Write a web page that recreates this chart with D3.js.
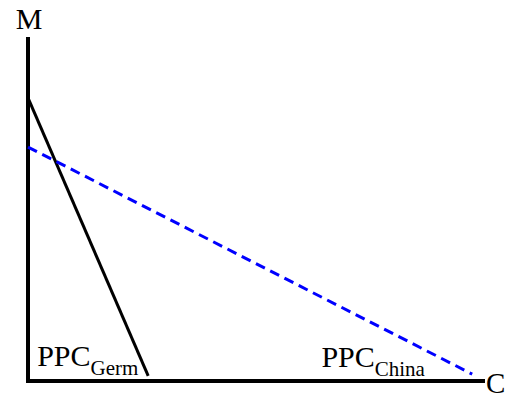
<!DOCTYPE html>
<html>
<head>
<meta charset="utf-8">
<script src="https://cdn.jsdelivr.net/npm/d3@7"></script>
<style>
  body { margin: 0; background: #fff; }
  text { font-family: "Liberation Serif", "Times New Roman", serif; fill: #000; }
</style>
</head>
<body>
<div id="chart"></div>
<script>
// PPC diagram: M (vertical) against C (horizontal), arbitrary units 0..100

let width = 508, height = 399;

let axisPoints = [[0, 100], [0, 0], [100, 0]];
let germanyPPC = [[0, 82.3], [26.3, 1.5]];
let chinaPPC   = [[0, 68.0], [97.2, 2.0]];
let axisLabels = ["M", "C"];
let ppcLabels  = [{ name: "PPC", sub: "Germ", x: 2, y: 4.4 },
                  { name: "PPC", sub: "China", x: 64.2, y: 4 }];

let xScale = d3.scaleLinear().domain([0, 100]).range([28, 485]);
let yScale = d3.scaleLinear().domain([0, 100]).range([381, 37]);

let line = d3.line()
  .x(function(d) { return xScale(d[0]); })
  .y(function(d) { return yScale(d[1]); });

let svg = d3.select("#chart")
  .append("svg")
  .attr("width", width)
  .attr("height", height);

// axes
svg.append("path")
  .attr("d", line(axisPoints))
  .attr("fill", "none")
  .attr("stroke", "black")
  .attr("stroke-width", 4);

// germany, solid
svg.append("path")
  .attr("d", line(germanyPPC))
  .attr("fill", "none")
  .attr("stroke", "black")
  .attr("stroke-width", 3);

// china, dashed blue
svg.append("path")
  .attr("d", line(chinaPPC))
  .attr("fill", "none")
  .attr("stroke", "#0000ff")
  .attr("stroke-width", 3)
  .attr("stroke-dasharray", "10,6");

// axis letters
svg.append("text")
  .attr("x", xScale(0) + 1)
  .attr("y", 29)
  .attr("text-anchor", "middle")
  .attr("font-size", 30)
  .text(axisLabels[0]);

svg.append("text")
  .attr("x", xScale(100) + 1)
  .attr("y", 393)
  .attr("font-size", 29)
  .text(axisLabels[1]);

// PPC labels with subscripts
ppcLabels.forEach(function(d) {
  let t = svg.append("text")
    .attr("x", xScale(d.x))
    .attr("y", yScale(d.y))
    .attr("font-size", 30);
  t.append("tspan").text(d.name);
  t.append("tspan")
    .attr("font-size", 21)
    .attr("dy", 9)
    .text(d.sub);
});
</script>
</body>
</html>
